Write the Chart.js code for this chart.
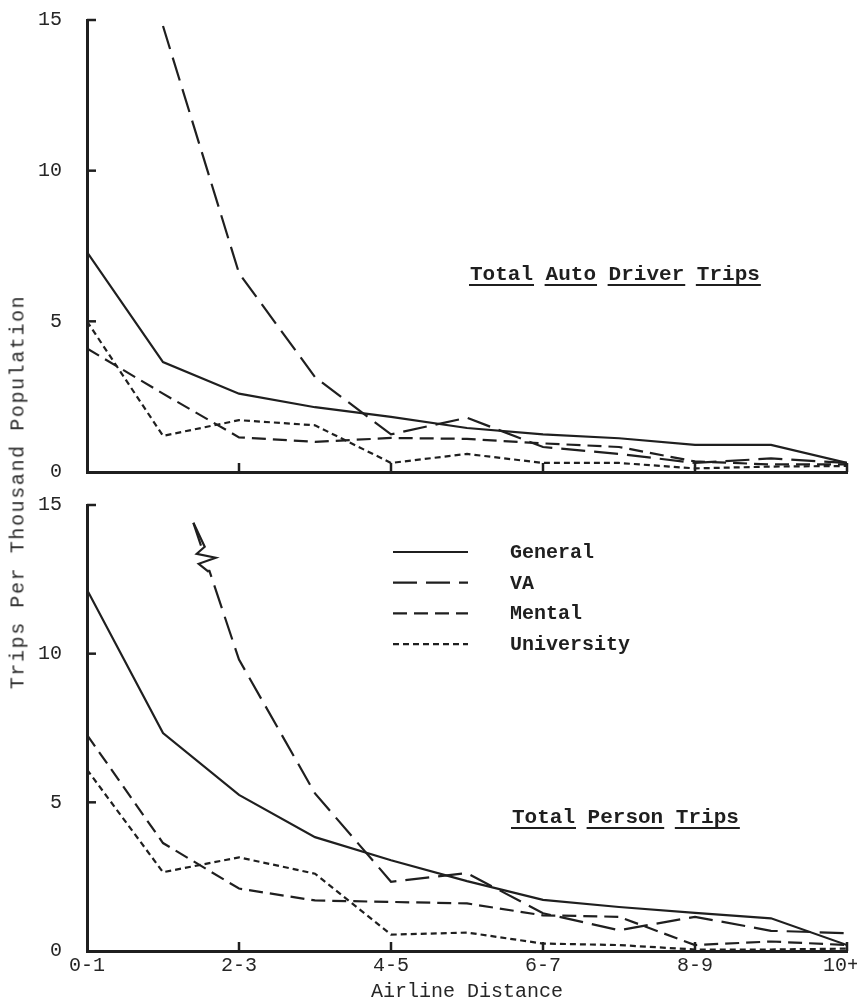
<!DOCTYPE html>
<html>
<head>
<meta charset="utf-8">
<script src="https://cdn.jsdelivr.net/npm/chart.js@4.4.1/dist/chart.umd.min.js"></script>
<style>
html,body{margin:0;padding:0;background:#fff;}
#wrap{position:relative;width:857px;height:1008px;overflow:hidden;background:#fff;}
canvas{position:absolute;left:0;}
#ytitle{position:absolute;left:18px;top:492px;transform:translate(-50%,-50%) rotate(-90deg);
  font:20px "Liberation Mono",monospace;letter-spacing:1.6px;white-space:nowrap;color:#2a2a2a;}
</style>
</head>
<body>
<div id="wrap">
  <canvas id="topChart" width="857" height="490" style="top:0px"></canvas>
  <canvas id="botChart" width="857" height="518" style="top:490px"></canvas>
  <div id="ytitle">Trips Per Thousand Population</div>
</div>
<script>
// ---- categories / ticks ----
const distances = ['0-1','1-2','2-3','3-4','4-5','5-6','6-7','7-8','8-9','9-10','10+'];
const yTickValues = [5, 10, 15];
const xTickValues = [2, 4, 6, 8, 10];
const seriesNames = ['General', 'VA', 'Mental', 'University'];

// ---- Total Auto Driver Trips (per thousand population) ----
const autoGeneral    = [7.3, 3.65, 2.6, 2.15, 1.83, 1.46, 1.25, 1.12, 0.9, 0.9, 0.3];
const autoVA         = [null, 14.8, 6.6, 3.15, 1.25, 1.8, 0.83, 0.6, 0.3, 0.45, 0.3];
const autoMental     = [4.1, 2.6, 1.15, 1.0, 1.13, 1.1, 0.95, 0.83, 0.35, 0.25, 0.25];
const autoUniversity = [5.0, 1.2, 1.72, 1.55, 0.3, 0.6, 0.3, 0.3, 0.12, 0.18, 0.2];

// ---- Total Person Trips (per thousand population) ----
const personGeneral    = [12.15, 7.33, 5.25, 3.83, 3.05, 2.35, 1.72, 1.48, 1.28, 1.1, 0.2];
const personVA         = [null, null, 9.8, 5.3, 2.33, 2.62, 1.27, 0.7, 1.15, 0.68, 0.6];
const personVABreak    = [1.4, 14.4];   // where the drawn VA line begins (off-scale above)
const personMental     = [7.27, 3.63, 2.1, 1.7, 1.65, 1.6, 1.2, 1.15, 0.2, 0.32, 0.2];
const personUniversity = [6.1, 2.65, 3.15, 2.6, 0.55, 0.62, 0.25, 0.2, 0.05, 0.05, 0.08];

const INK = '#1f1f1f';
const FONT = '"Liberation Mono", "DejaVu Sans Mono", monospace';
const dashes = { General: [], VA: [24, 9], Mental: [14, 7], University: [6, 4] };

Chart.defaults.font.family = FONT;
Chart.defaults.font.size = 20;
Chart.defaults.color = '#262626';

function toPoints(arr) {
  return arr.map((v, i) => ({ x: i, y: v })).filter(p => p.y !== null);
}

function line(ctx, x1, y1, x2, y2) {
  ctx.beginPath(); ctx.moveTo(x1, y1); ctx.lineTo(x2, y2); ctx.stroke();
}

const decor = {
  id: 'decor',
  afterDatasetsDraw(chart, args, o) {
    const { ctx, chartArea: a, scales: { x, y } } = chart;
    ctx.save();
    ctx.strokeStyle = INK;
    ctx.fillStyle = INK;
    ctx.setLineDash([]);
    ctx.lineWidth = 2.5;
    // inward tick marks
    yTickValues.forEach(v => { const py = y.getPixelForValue(v); line(ctx, a.left, py, a.left + 9, py); });
    xTickValues.forEach(v => { const px = x.getPixelForValue(v); line(ctx, px, a.bottom, px, a.bottom - 9); });

    // panel title, each word underlined
    if (o.title) {
      ctx.font = 'bold 21px ' + FONT;
      ctx.textBaseline = 'alphabetic';
      ctx.textAlign = 'left';
      let tx = a.left + o.titleDx;
      const ty = a.top + o.titleDy;
      ctx.lineWidth = 2;
      o.title.split(' ').forEach(w => {
        const wd = ctx.measureText(w).width;
        ctx.fillText(w, tx, ty);
        line(ctx, tx - 1, ty + 5, tx + wd + 1, ty + 5);
        tx += wd + ctx.measureText(' ').width;
      });
    }

    // legend
    if (o.legend) {
      ctx.font = 'bold 20px ' + FONT;
      ctx.textBaseline = 'middle';
      ctx.textAlign = 'left';
      chart.data.datasets.forEach((ds, i) => {
        const ly = a.top + 47 + i * 30.7;
        ctx.lineWidth = 2.2;
        ctx.setLineDash(ds.borderDash || []);
        line(ctx, a.left + 306, ly, a.left + 381, ly);
        ctx.setLineDash([]);
        ctx.fillText(ds.label, a.left + 423, ly + 1);
      });
    }

    // break (zigzag) symbol on the off-scale VA line
    if (o.zigzag) {
      const meta = chart.getDatasetMeta(1).data;
      const p0 = meta[0], p1 = meta[1];
      const t = 0.27;
      const cx = p0.x + (p1.x - p0.x) * t, cy = p0.y + (p1.y - p0.y) * t;
      ctx.lineWidth = 2.2;
      ctx.setLineDash([]);
      ctx.fillStyle = '#fff';
      ctx.fillRect(cx - 6, cy - 10, 12, 20);
      ctx.beginPath();
      ctx.moveTo(p0.x, p0.y);
      ctx.lineTo(cx - 1, cy - 13);
      ctx.lineTo(cx - 9, cy - 6);
      ctx.lineTo(cx + 10, cy - 2);
      ctx.lineTo(cx - 7, cy + 4);
      ctx.lineTo(cx + 3, cy + 12);
      ctx.stroke();
    }
    ctx.restore();
  }
};

function makeChart(id, series, cfg) {
  return new Chart(document.getElementById(id), {
    type: 'line',
    data: {
      datasets: series.map(s => ({
        label: s.label,
        data: s.data,
        borderColor: INK,
        borderWidth: 2.2,
        borderDash: dashes[s.label],
        borderCapStyle: 'butt',
        pointRadius: 0,
        tension: 0,
        fill: false
      }))
    },
    options: {
      responsive: false,
      animation: false,
      devicePixelRatio: 1,
      layout: { padding: { left: 0, right: 10, top: cfg.padTop, bottom: cfg.padBottom } },
      plugins: {
        legend: { display: false },
        tooltip: { enabled: false },
        decor: cfg.decor
      },
      scales: {
        x: {
          type: 'linear', min: 0, max: 10,
          grid: { display: false, drawTicks: false },
          border: { display: true, width: 3, color: INK },
          ticks: {
            display: cfg.xLabels, stepSize: 2, padding: 3, maxRotation: 0, autoSkip: false,
            callback: v => distances[v] + (v === 10 ? ' ' : ''), font: { size: 20 }, color: '#262626'
          },
          title: { display: cfg.xLabels, text: 'Airline Distance', padding: { top: 0, bottom: 4 }, font: { size: 20 }, color: '#262626' },
          afterFit: s => { s.height = cfg.xHeight; s.paddingLeft = 0; s.paddingRight = 0; }
        },
        y: {
          min: 0, max: 15,
          grid: { display: false, drawTicks: false },
          border: { display: true, width: 3, color: INK },
          ticks: { stepSize: 5, padding: 25, font: { size: 20 }, color: '#262626' },
          afterFit: s => { s.width = 87; s.paddingTop = 0; s.paddingBottom = 0; }
        }
      }
    },
    plugins: [decor]
  });
}

makeChart('topChart', [
  { label: seriesNames[0], data: toPoints(autoGeneral) },
  { label: seriesNames[1], data: toPoints(autoVA) },
  { label: seriesNames[2], data: toPoints(autoMental) },
  { label: seriesNames[3], data: toPoints(autoUniversity) }
], {
  padTop: 20, padBottom: 18, xHeight: 0, xLabels: false,
  decor: { title: 'Total Auto Driver Trips', titleDx: 383, titleDy: 260, legend: false, zigzag: false }
});

makeChart('botChart', [
  { label: seriesNames[0], data: toPoints(personGeneral) },
  { label: seriesNames[1], data: [{ x: personVABreak[0], y: personVABreak[1] }].concat(toPoints(personVA)) },
  { label: seriesNames[2], data: toPoints(personMental) },
  { label: seriesNames[3], data: toPoints(personUniversity) }
], {
  padTop: 15, padBottom: 0, xHeight: 57, xLabels: true,
  decor: { title: 'Total Person Trips', titleDx: 425, titleDy: 318, legend: true, zigzag: true }
});
</script>
</body>
</html>
